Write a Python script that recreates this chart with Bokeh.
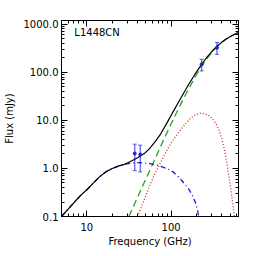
from bokeh.plotting import figure
from bokeh.models import (FixedTicker, LogAxis, Label, Whisker, ColumnDataSource,
                          TeeHead, Range1d)
from bokeh.embed import file_html
from bokeh.resources import INLINE

# ---- data ----
total_freq = [5, 6, 7, 8.5, 10, 12, 14, 17, 20, 24, 28, 33, 40, 48, 56, 65, 75, 90,
              105, 124, 140, 162, 180, 200, 230, 260, 300, 350, 400, 450, 500, 560, 630]
total_flux = [0.1, 0.143, 0.193, 0.278, 0.36, 0.50, 0.66, 0.86, 1.0, 1.13, 1.22, 1.40,
              1.67, 2.04, 2.64, 3.65, 5.2, 9.1, 14.9, 25.0, 36.4, 56.4, 76.3, 102.6,
              147, 196.5, 265, 349, 426, 493, 551, 614, 679]

dust_freq = [31.5, 35, 40, 45, 50, 60, 70, 85, 100, 115, 130, 145, 160, 180, 200, 230,
             260, 300, 350, 400, 450, 500, 560, 630]
dust_flux = [0.1, 0.15, 0.254, 0.40, 0.60, 1.2, 2.2, 4.6, 8.5, 14.1, 21.8, 31.8, 44,
             64, 89, 133, 183, 254, 341, 422, 491, 551, 614, 679]

cold_freq = [40, 45, 50, 57, 65, 75, 87, 100, 115, 130, 150, 171, 195, 220, 250, 280,
             310, 340, 370, 400, 430, 460, 490, 520, 545, 562]
cold_flux = [0.1, 0.17, 0.27, 0.48, 0.82, 1.33, 2.2, 3.4, 4.8, 6.4, 8.8, 11.2, 13.2,
             14.0, 13.8, 12.6, 10.8, 8.6, 6.3, 4.1, 2.4, 1.25, 0.6, 0.3, 0.16, 0.1]

ff_freq = [5, 6, 7, 8.5, 10, 12, 14, 17, 20, 24, 28, 33, 40, 48, 56, 65, 75, 90, 105,
           124, 140, 162, 180, 195, 205, 212]
ff_flux = [0.1, 0.143, 0.193, 0.278, 0.36, 0.50, 0.66, 0.86, 1.0, 1.13, 1.22, 1.28,
           1.32, 1.30, 1.26, 1.20, 1.11, 0.99, 0.85, 0.65, 0.51, 0.37, 0.27, 0.19,
           0.14, 0.1]

obs_freq = [37, 43, 230, 350]
obs_flux = [2.05, 1.95, 147, 327]
obs_err = [1.15, 1.1, 40, 90]

x_major = [10, 100]
x_minor = [5, 6, 7, 8, 9, 20, 30, 40, 50, 60, 70, 80, 90, 200, 300, 400, 500, 600]
y_major = [0.1, 1, 10, 100, 1000]
y_minor = [0.2, 0.3, 0.4, 0.5, 0.6, 0.7, 0.8, 0.9, 2, 3, 4, 5, 6, 7, 8, 9,
           20, 30, 40, 50, 60, 70, 80, 90, 200, 300, 400, 500, 600, 700, 800, 900]
y_labels = ["0.1", "1.0", "10.0", "100.0", "1000.0"]
x_labels = ["10", "100"]

FONT = "DejaVu Sans"

p = figure(width=248, height=249, x_axis_type="log", y_axis_type="log",
           x_range=Range1d(5, 630), y_range=Range1d(0.1, 1200),
           output_backend="svg", toolbar_location=None,
           min_border_left=60, min_border_right=10, min_border_top=20,
           min_border_bottom=31)
p.xgrid.visible = False
p.ygrid.visible = False
p.outline_line_color = "black"
p.outline_line_width = 1
p.background_fill_color = "white"
p.border_fill_color = "white"

xt = FixedTicker(ticks=x_major, minor_ticks=x_minor)
yt = FixedTicker(ticks=y_major, minor_ticks=y_minor)


def style(ax, show_labels):
    ax.major_tick_in = 6
    ax.major_tick_out = 0
    ax.minor_tick_in = 3
    ax.minor_tick_out = 0
    ax.axis_line_color = "black"
    ax.major_tick_line_color = "black"
    ax.minor_tick_line_color = "black"
    if show_labels:
        ax.major_label_text_font = FONT
        ax.major_label_text_font_size = "10px"
        ax.major_label_text_color = "black"
        ax.axis_label_text_font = FONT
        ax.axis_label_text_font_size = "10px"
        ax.axis_label_text_font_style = "normal"
        ax.axis_label_text_color = "black"
    else:
        ax.major_label_text_font_size = "1px"
        ax.major_label_text_alpha = 0
        ax.major_label_standoff = 0


xa = p.xaxis[0]
xa.ticker = xt
xa.major_label_overrides = {float(v): s for v, s in zip(x_major, x_labels)}
xa.axis_label = "Frequency (GHz)"
style(xa, True)
xa.major_label_standoff = 6
xa.axis_label_standoff = 2

ya = p.yaxis[0]
ya.ticker = yt
ya.major_label_overrides = {float(v): s for v, s in zip(y_major, y_labels)}
ya.axis_label = "Flux (mJy)"
style(ya, True)
ya.major_label_standoff = 3
ya.axis_label_standoff = 6

ra = LogAxis(ticker=FixedTicker(ticks=y_major, minor_ticks=y_minor))
style(ra, False)
p.add_layout(ra, "right")
ta = LogAxis(ticker=FixedTicker(ticks=x_major, minor_ticks=x_minor))
style(ta, False)
p.add_layout(ta, "above")

# components
p.line(dust_freq, dust_flux, line_color="#22aa22", line_width=1.3, line_dash="7 4")
p.line(cold_freq, cold_flux, line_color="#d42020", line_width=1.3, line_dash="1 2")
p.line(ff_freq, ff_flux, line_color="#1a1ae0", line_width=1.3, line_dash="5 3 1 3")
p.line(total_freq, total_flux, line_color="black", line_width=1.2)

# observations
lo = [f - e for f, e in zip(obs_flux, obs_err)]
hi = [f + e for f, e in zip(obs_flux, obs_err)]
src = ColumnDataSource(dict(x=obs_freq, y=obs_flux, lo=lo, hi=hi))
wh = Whisker(source=src, base="x", upper="hi", lower="lo", dimension="height",
             line_color="#5555ee", line_width=1.2,
             upper_head=TeeHead(size=4, line_color="#5555ee", line_width=1),
             lower_head=TeeHead(size=4, line_color="#5555ee", line_width=1))
p.add_layout(wh)
p.scatter("x", "y", source=src, size=3, color="#2222cc")

p.add_layout(Label(x=7.1, y=900, text="L1448CN", text_font=FONT,
                   text_font_size="10px", text_baseline="top", text_color="black"))

open("out.html", "w").write(file_html(p, INLINE))
